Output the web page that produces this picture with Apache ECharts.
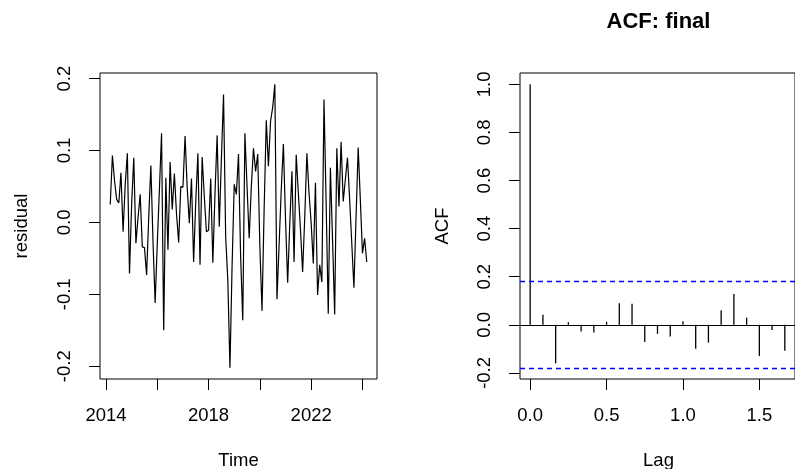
<!DOCTYPE html>
<html>
<head>
<meta charset="utf-8">
<script src="https://cdn.jsdelivr.net/npm/echarts@6/dist/echarts.min.js"></script>
<style>
  html, body { margin: 0; padding: 0; background: #ffffff; }
  #chart { width: 795px; height: 469px; }
</style>
</head>
<body>
<div id="chart"></div>
<script>
// ---- Data ----
// Monthly residual series, March 2014 .. March 2024 (frequency 12)
const startYear = 2014;
const startMonth = 3;
const frequency = 12;
const residual = [
  0.025, 0.093, 0.058, 0.032, 0.027, 0.069, -0.013, 0.053, 0.096, -0.071,
  0.025, 0.090, -0.029, 0.007, 0.039, -0.034, -0.035, -0.073, 0.007, 0.079,
  -0.027, -0.112, -0.029, 0.046, 0.124, -0.150, 0.062, -0.038, 0.084, 0.018,
  0.068, 0.012, -0.028, 0.050, 0.049, 0.120, 0.048, -0.001, 0.061, -0.055,
  0.029, 0.096, -0.059, 0.091, 0.036, -0.013, -0.011, 0.061, -0.056, 0.040,
  0.121, -0.006, 0.089, 0.178, -0.020, -0.080, -0.202, -0.060, 0.053, 0.039,
  0.095, -0.048, -0.136, 0.124, 0.050, -0.022, 0.050, 0.103, 0.071, 0.095,
  -0.034, -0.123, 0.019, 0.142, 0.078, 0.141, 0.160, 0.192, -0.107, -0.031,
  0.045, 0.109, 0.004, -0.084, -0.001, 0.071, -0.055, 0.094, 0.041, -0.010,
  -0.069, 0.008, 0.096, 0.041, -0.001, -0.057, 0.055, -0.101, -0.059, -0.083,
  0.171, 0.027, -0.127, 0.076, -0.024, -0.128, 0.103, 0.022, 0.112, 0.029,
  0.060, 0.090, 0.032, -0.029, -0.091, 0.008, 0.104, 0.032, -0.043, -0.022,
  -0.055
];
// ACF of the residuals at lags 0..20 months (lag shown in years)
const acfValues = [
  1.0, 0.042, -0.160, 0.011, -0.028, -0.032, 0.0125, 0.090, 0.0875, -0.071,
  -0.0375, -0.049, 0.015, -0.100, -0.074, 0.061, 0.128, 0.030, -0.130, -0.022,
  -0.108
];
const confBound = 0.1782;

// Tick labels
const timeTicks = [2014, 2016, 2018, 2020, 2022, 2024];
const timeLabels = [2014, 2018, 2022];
const residTicks = [-0.2, -0.1, 0.0, 0.1, 0.2];
const lagTicks = [0.0, 0.5, 1.0, 1.5];
const acfTicks = [-0.2, 0.0, 0.2, 0.4, 0.6, 0.8, 1.0];

// ---- Build series data ----
const t0 = startYear + (startMonth - 1) / frequency;
const residData = residual.map((v, i) => [t0 + i / frequency, v]);
const acfData = acfValues.map((v, k) => [k / frequency, v]);

// R-style 4% axis padding
function padRange(lo, hi) { const r = hi - lo; return [lo - 0.04 * r, hi + 0.04 * r]; }
const tRange = padRange(residData[0][0], residData[residData.length - 1][0]);
const rRange = padRange(Math.min(...residual), Math.max(...residual));
const lRange = padRange(0, acfData[acfData.length - 1][0]);
const aRange = padRange(Math.min(-confBound, ...acfValues), Math.max(confBound, ...acfValues));

const FONT = "'Liberation Sans', Arial, Helvetica, sans-serif";
const FS = 18.5;

const chart = echarts.init(document.getElementById('chart'), null, { renderer: 'canvas' });

function xAxisCfg(gridIndex, range, ticks, labels, fmt) {
  return {
    type: 'value', gridIndex, min: range[0], max: range[1], position: 'bottom',
    axisLine: { show: false, onZero: false },
    splitLine: { show: false },
    axisTick: { show: true, length: 11, customValues: ticks, lineStyle: { color: '#000', width: 1 } },
    axisLabel: { show: true, customValues: labels, margin: 27, color: '#000',
      fontSize: FS, fontFamily: FONT, formatter: fmt, showMinLabel: true, showMaxLabel: true }
  };
}
function yAxisCfg(gridIndex, range, ticks, fmt) {
  return {
    type: 'value', gridIndex, min: range[0], max: range[1], position: 'left',
    axisLine: { show: false, onZero: false },
    splitLine: { show: false },
    axisTick: { show: true, length: 11, customValues: ticks, lineStyle: { color: '#000', width: 1 } },
    axisLabel: { show: true, customValues: ticks, rotate: 90, margin: 26, color: '#000',
      fontSize: FS, fontFamily: FONT, formatter: fmt }
  };
}

const fmt1 = v => Number(v).toFixed(1);
const fmtYear = v => String(Math.round(v));

function label(text, x, y, rot, size, weight) {
  return {
    type: 'text', x, y, rotation: rot || 0, silent: true,
    style: {
      text, fill: '#000', fontSize: size || FS, fontFamily: FONT, fontWeight: weight || 'normal',
      align: 'center', verticalAlign: 'middle', textAlign: 'center', textVerticalAlign: 'middle'
    }
  };
}

const option = {
  animation: false,
  backgroundColor: '#ffffff',
  grid: [
    { left: 100, top: 73, width: 277, height: 306, show: true, borderColor: '#000', borderWidth: 1, backgroundColor: 'transparent', containLabel: false },
    { left: 520, top: 73, width: 277, height: 306, show: true, borderColor: '#000', borderWidth: 1, backgroundColor: 'transparent', containLabel: false }
  ],
  xAxis: [
    xAxisCfg(0, tRange, timeTicks, timeLabels, fmtYear),
    xAxisCfg(1, lRange, lagTicks, lagTicks, fmt1)
  ],
  yAxis: [
    yAxisCfg(0, rRange, residTicks, fmt1),
    yAxisCfg(1, aRange, acfTicks, fmt1)
  ],
  graphic: [
    label('residual', 22, 226, Math.PI / 2),
    label('Time', 238.5, 461, 0),
    label('ACF', 443, 226, Math.PI / 2),
    label('Lag', 658.5, 461, 0),
    label('ACF: final', 658.5, 22, 0, 22, 'bold')
  ],
  series: [
    {
      type: 'line', xAxisIndex: 0, yAxisIndex: 0, data: residData,
      symbol: 'none', silent: true,
      lineStyle: { color: '#000', width: 1.2 }
    },
    {
      type: 'custom', xAxisIndex: 1, yAxisIndex: 1, data: acfData, silent: true,
      renderItem: function (params, api) {
        const p0 = api.coord([api.value(0), 0]);
        const p1 = api.coord([api.value(0), api.value(1)]);
        return { type: 'line', shape: { x1: p0[0], y1: p0[1], x2: p1[0], y2: p1[1] },
                 style: { stroke: '#000', lineWidth: 1.3 } };
      },
      markLine: {
        silent: true, symbol: ['none', 'none'], label: { show: false }, animation: false,
        data: [
          { yAxis: 0, lineStyle: { color: '#000', width: 1, type: 'solid' } },
          { yAxis: confBound, lineStyle: { color: '#0000FF', width: 1.3, type: [5, 4] } },
          { yAxis: -confBound, lineStyle: { color: '#0000FF', width: 1.3, type: [5, 4] } }
        ]
      }
    }
  ]
};
chart.setOption(option);
</script>
</body>
</html>
